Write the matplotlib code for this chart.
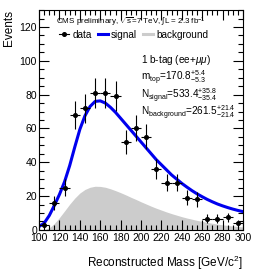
import numpy as np
import matplotlib
matplotlib.use("Agg")
import matplotlib.pyplot as plt
from matplotlib.ticker import MultipleLocator
from matplotlib.lines import Line2D

plt.rcParams['font.family'] = ['Liberation Sans', 'DejaVu Sans']
plt.rcParams['mathtext.fontset'] = 'custom'
plt.rcParams['mathtext.rm'] = 'Liberation Sans'
plt.rcParams['mathtext.it'] = 'Liberation Sans:italic'

# data points (10 GeV bins)
bin_centers = [105, 115, 125, 135, 145, 155, 165, 175, 185, 195,
               205, 215, 225, 235, 245, 255, 265, 275, 285, 295]
counts = [3, 16, 25, 68, 72, 81, 81, 79, 52, 60,
          55, 36, 28, 28, 19, 18, 6.5, 6.5, 7.5, 4]
count_err = [1.8, 4.0, 5.0, 8.2, 8.5, 9.0, 9.0, 8.9, 7.2, 7.7,
             7.4, 6.0, 5.3, 5.3, 4.4, 4.2, 2.6, 2.6, 2.7, 2.0]

# fitted curves
mass_grid = [100, 105, 110, 115, 120, 125, 130, 135, 140, 145,
             150, 155, 160, 165, 170, 175, 180, 185, 190, 195,
             200, 205, 210, 215, 220, 225, 230, 235, 240, 245,
             250, 255, 260, 265, 270, 275, 280, 285, 290, 295, 300]
signal = [2, 4, 8.5, 14.5, 21, 28.5, 38, 49, 59.5, 67.5,
          73, 76, 76.3, 75, 72.5, 69.5, 66, 62.5, 59, 55.5,
          52, 48.5, 45, 41.5, 38.5, 35.5, 32.5, 30, 27.5, 25.3,
          23.2, 21.3, 19.6, 18, 16.6, 15.3, 14.2, 13.2, 12.3, 11.5, 10.8]
background = [0, 0, 1.2, 3.8, 7.3, 11.2, 15.2, 18.8, 21.8, 23.9,
              25.2, 25.8, 25.7, 25.2, 24.3, 23.2, 22, 20.7, 19.3, 18,
              16.6, 15.3, 14, 12.8, 11.7, 10.6, 9.6, 8.7, 7.8, 7,
              6.3, 5.6, 5, 4.4, 3.9, 3.4, 3, 2.6, 2.3, 2, 1.7]

fig = plt.figure(figsize=(2.59, 2.73), dpi=100)
ax = fig.add_axes([0.151, 0.158, 0.787, 0.805])

ax.fill_between(mass_grid, background, 0, color='#cccccc', lw=0)
ax.plot(mass_grid, signal, color='#0000ee', lw=2.2)
ax.errorbar(bin_centers, counts, yerr=count_err, xerr=5, fmt='o', ms=2.6,
            color='black', ecolor='black', elinewidth=0.8, capsize=0)

ax.set_xlim(100, 300)
ax.set_ylim(0, 130)
ax.xaxis.set_major_locator(MultipleLocator(20))
ax.xaxis.set_minor_locator(MultipleLocator(5))
ax.yaxis.set_major_locator(MultipleLocator(20))
ax.yaxis.set_minor_locator(MultipleLocator(5))
ax.tick_params(which='both', direction='in', top=True, right=True,
               labelsize=7.5, width=0.8, pad=2)
ax.tick_params(which='major', length=7)
ax.tick_params(which='minor', length=3.5)
ax.tick_params(axis='y', pad=1.5)
for s in ax.spines.values():
    s.set_linewidth(0.8)

ax.set_xlabel('Reconstructed Mass [GeV/c$^{2}$]', fontsize=8.5, loc='right', labelpad=8)
ax.set_ylabel('Events', fontsize=8.5, loc='top', labelpad=3)

ax.text(0.085, 0.945, r'CMS preliminary, $\sqrt{\mathrm{s}}$=7 TeV, $\int$L = 2.3 fb$^{-1}$',
        transform=ax.transAxes, fontsize=5.8, va='center')

handles = [
    Line2D([], [], color='black', marker='o', ms=2.6, lw=0.8),
    Line2D([], [], color='#0000ee', lw=2.2),
    Line2D([], [], color='#cccccc', lw=2.2),
]
ax.legend(handles, ['data', 'signal', 'background'], ncol=3, loc='upper left',
          bbox_to_anchor=(0.1, 0.91), frameon=False, fontsize=7.2,
          handlelength=1.0, handletextpad=0.3, columnspacing=0.6,
          borderpad=0, borderaxespad=0)

ax.text(0.5, 0.76, r'1 b-tag (ee+$\mu\mu$)', transform=ax.transAxes, fontsize=7.2)
ax.text(0.5, 0.675, r'm$_{\mathrm{top}}$=170.8$^{+5.4}_{-5.3}$', transform=ax.transAxes, fontsize=7.2)
ax.text(0.5, 0.595, r'N$_{\mathrm{signal}}$=533.4$^{+35.8}_{-35.4}$', transform=ax.transAxes, fontsize=7.2)
ax.text(0.5, 0.515, r'N$_{\mathrm{background}}$=261.5$^{+21.4}_{-21.4}$', transform=ax.transAxes, fontsize=7.2)

fig.savefig('out.png', dpi=100)
